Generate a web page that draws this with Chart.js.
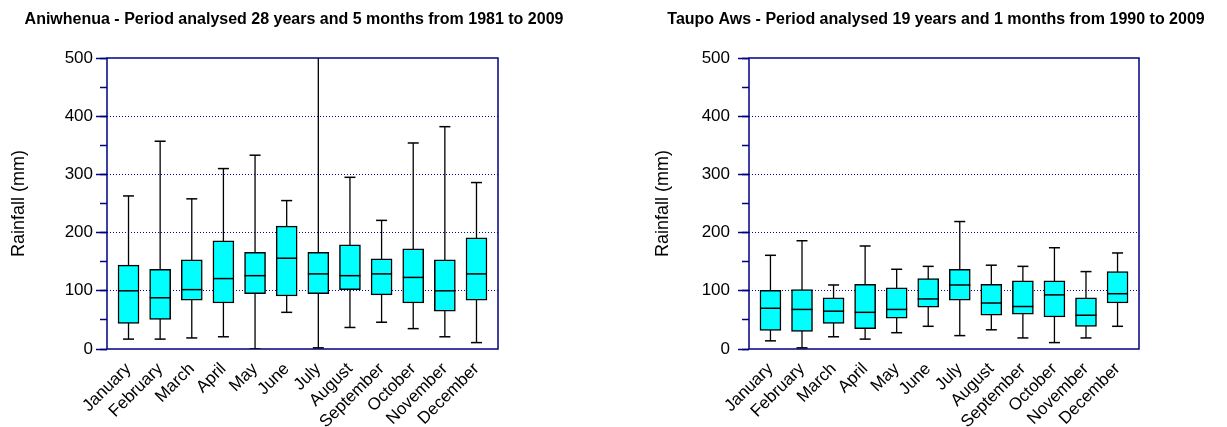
<!DOCTYPE html>
<html>
<head>
<meta charset="utf-8">
<script src="https://cdn.jsdelivr.net/npm/chart.js@4.4.1/dist/chart.umd.min.js"></script>
<style>
  html, body { margin: 0; padding: 0; background: #fff; }
  #wrap { position: relative; width: 1227px; height: 427px; overflow: hidden; }
  canvas { position: absolute; top: 0; }
  #graficoAniwhenua { left: 0; }
  #graficoTaupo { left: 645px; }
</style>
</head>
<body>
<div id="wrap">
  <canvas id="graficoAniwhenua" width="588" height="427"></canvas>
  <canvas id="graficoTaupo" width="582" height="427"></canvas>
</div>
<script>
// Meses (eixo x)
const meses = ['January', 'February', 'March', 'April', 'May', 'June', 'July',
  'August', 'September', 'October', 'November', 'December'];

// Aniwhenua - chuva mensal (mm): mínimo, quartis, mediana, máximo
const aniwhenuaMin = [17, 17, 19, 21, 0, 63, 2, 37, 46, 35, 21, 11];
const aniwhenuaQ1 = [44, 51, 84, 79, 95, 91, 95, 102, 93, 79, 65, 84];
const aniwhenuaMediana = [100, 88, 102, 121, 126, 156, 129, 126, 129, 123, 100, 129];
const aniwhenuaQ3 = [144, 137, 153, 186, 166, 211, 166, 179, 155, 172, 153, 191];
const aniwhenuaMax = [263, 357, 258, 310, 333, 255, 540, 295, 221, 354, 382, 286];

// Taupo Aws
const taupoMin = [14, 2, 21, 17, 28, 39, 23, 33, 19, 11, 19, 39];
const taupoQ1 = [32, 30, 44, 35, 53, 72, 84, 58, 60, 55, 39, 79];
const taupoMediana = [70, 68, 65, 63, 68, 86, 110, 79, 73, 93, 58, 95];
const taupoQ3 = [101, 102, 88, 111, 105, 121, 137, 111, 117, 117, 88, 133];
const taupoMax = [161, 186, 110, 177, 137, 142, 219, 144, 142, 174, 133, 165];

// Eixo y
const yMin = 0;
const yMax = 500;

const fonte = 'Arial, "Liberation Sans", sans-serif';
const azul = '#000080';

// Moldura em volta da área do gráfico
const moldura = {
  id: 'moldura',
  beforeDatasetsDraw(chart) {
    const { ctx, chartArea: a } = chart;
    ctx.save();
    ctx.strokeStyle = azul;
    ctx.lineWidth = 1.5;
    ctx.strokeRect(a.left, a.top, a.right - a.left, a.bottom - a.top);
    ctx.restore();
  }
};

function criarGrafico(canvasId, titulo, min, q1, mediana, q3, max, cfg) {
  // Bigodes: um segmento vertical por mês, separados por null
  const bigodes = [];
  meses.forEach((_, i) => {
    bigodes.push({ x: i, y: min[i] }, { x: i, y: max[i] }, { x: i, y: null });
  });
  const caixas = meses.map((_, i) => ({ x: i, y: [q1[i], q3[i]] }));
  const pontas = [];
  meses.forEach((_, i) => {
    pontas.push({ x: i, y: min[i] }, { x: i, y: max[i] });
  });
  const medianas = meses.map((_, i) => ({ x: i, y: mediana[i] }));

  return new Chart(document.getElementById(canvasId), {
    type: 'bar',
    data: {
      datasets: [
        {
          type: 'line',
          data: bigodes,
          borderColor: '#000',
          borderWidth: 1.3,
          pointRadius: 0,
          spanGaps: false,
          order: 3
        },
        {
          type: 'bar',
          data: caixas,
          backgroundColor: '#00ffff',
          borderColor: '#000',
          borderWidth: 1.5,
          borderSkipped: false,
          barThickness: 21,
          order: 2
        },
        {
          type: 'scatter',
          data: pontas,
          pointStyle: 'line',
          pointRadius: 5.5,
          pointBorderColor: '#000',
          pointBorderWidth: 1.5,
          order: 1
        },
        {
          type: 'scatter',
          data: medianas,
          pointStyle: 'line',
          pointRadius: 10.5,
          pointBorderColor: '#000',
          pointBorderWidth: 1.5,
          order: 0
        }
      ]
    },
    options: {
      responsive: false,
      animation: false,
      layout: { padding: 0 },
      plugins: {
        legend: { display: false },
        tooltip: { enabled: false },
        title: {
          display: true,
          text: titulo,
          color: '#000',
          font: { family: fonte, size: 16, weight: 'bold' },
          padding: { top: 10, bottom: 28.8 }
        }
      },
      scales: {
        x: {
          type: 'linear',
          offset: false,
          min: -0.68,
          max: 11.68,
          afterBuildTicks: (s) => { s.ticks = meses.map((_, i) => ({ value: i })); },
          afterFit: (s) => { s.height = 78; },
          ticks: {
            callback: (v) => meses[v],
            autoSkip: false,
            minRotation: 45,
            maxRotation: 45,
            color: '#000',
            font: { family: fonte, size: 17 },
            padding: 10
          },
          grid: { display: false, drawTicks: false },
          border: { display: false }
        },
        y: {
          min: yMin,
          max: yMax,
          weight: 1,
          afterFit: (s) => { s.width = cfg.larguraY; },
          ticks: {
            stepSize: 100,
            color: '#000',
            font: { family: fonte, size: 17 },
            padding: cfg.padTick
          },
          grid: {
            color: (ctx) => (ctx.tick && ctx.tick.value > yMin && ctx.tick.value < yMax) ? '#0000a0' : 'rgba(0,0,0,0)',
            lineWidth: 1,
            tickColor: azul,
            tickLength: 11,
            tickWidth: 1.5
          },
          border: { display: false, dash: [1, 2] },
          title: {
            display: true,
            text: 'Rainfall (mm)',
            color: '#000',
            font: { family: fonte, size: 18 },
            padding: { top: cfg.padTitulo, bottom: 0 }
          }
        },
        yMenor: {
          position: 'left',
          weight: 0,
          min: yMin,
          max: yMax,
          afterFit: (s) => { s.width = 0; },
          ticks: { stepSize: 50, display: false },
          grid: { drawOnChartArea: false, tickColor: azul, tickLength: 7, tickWidth: 1.5 },
          border: { display: false }
        },
        // espaço vazio à direita, para o título ficar centrado como no original
        yDireita: {
          position: 'right',
          min: yMin,
          max: yMax,
          afterFit: (s) => { s.width = cfg.direita; },
          ticks: { display: false },
          grid: { display: false },
          border: { display: false }
        }
      }
    },
    plugins: [moldura]
  });
}

criarGrafico('graficoAniwhenua', 'Aniwhenua - Period analysed 28 years and 5 months from 1981 to 2009',
  aniwhenuaMin, aniwhenuaQ1, aniwhenuaMediana, aniwhenuaQ3, aniwhenuaMax,
  { direita: 90, larguraY: 107, padTick: 3, padTitulo: 8 });

criarGrafico('graficoTaupo', 'Taupo Aws - Period analysed 19 years and 1 months from 1990 to 2009',
  taupoMin, taupoQ1, taupoMediana, taupoQ3, taupoMax,
  { direita: 88, larguraY: 104, padTick: 8, padTitulo: 7 });
</script>
</body>
</html>
